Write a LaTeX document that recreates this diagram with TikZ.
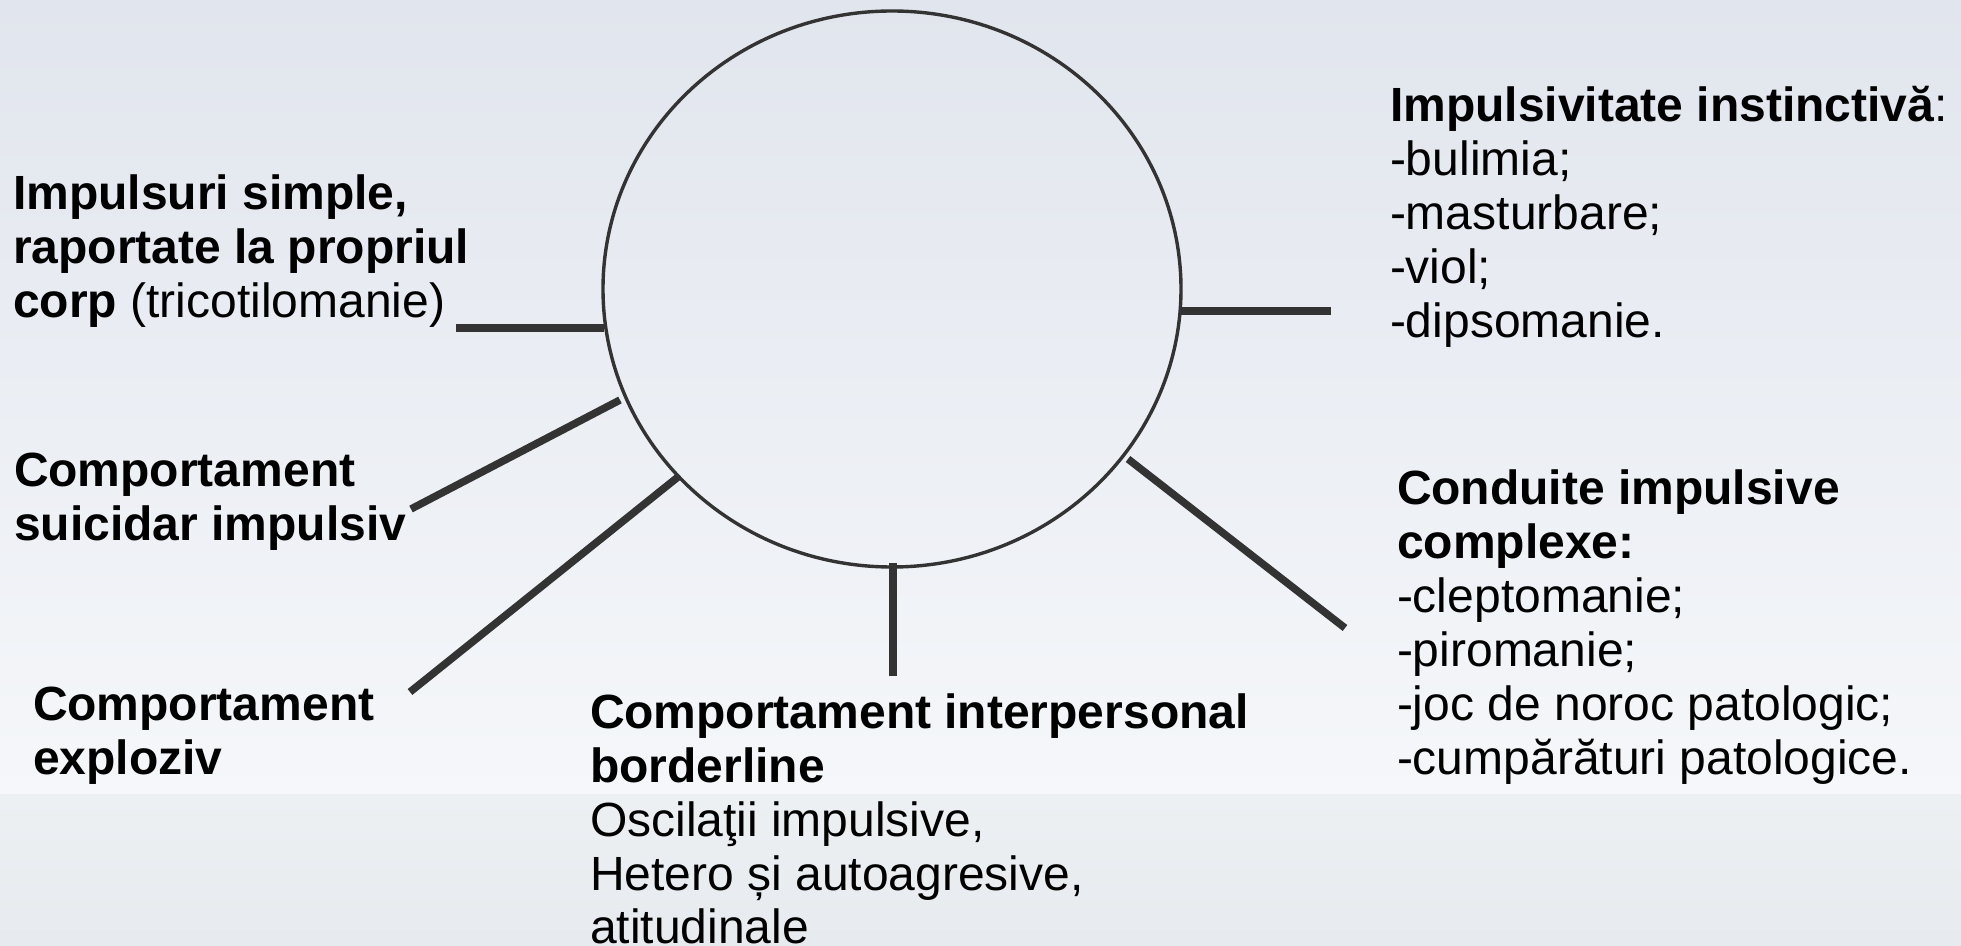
\documentclass[tikz,border=0pt]{standalone}
\usepackage{fontspec}
\setmainfont{Liberation Sans}
\usetikzlibrary{shapes.geometric}
\definecolor{bgtop}{HTML}{E1E5ED}
\definecolor{bgmid}{HTML}{F5F7FA}
\definecolor{bglow}{HTML}{EDF0F3}
\definecolor{bgbot}{HTML}{E7EAEE}
\definecolor{ink}{HTML}{333333}
\newcommand{\txtblock}[1]{\fontsize{24}{27}\selectfont\begin{tabular}[t]{@{}l@{}}#1\end{tabular}}
\begin{document}
\begin{tikzpicture}[x=0.5pt,y=-0.5pt,
  lbl/.style={anchor=base west,inner sep=0pt,outer sep=0pt,text=black},
  stub/.style={draw=ink,line width=3.75pt},
  ring/.style={draw=ink,line width=1.7pt,ellipse,minimum width=289pt,minimum height=278pt,inner sep=0pt}]
\useasboundingbox (0,0) rectangle (1961,946);
\shade[top color=bgtop,bottom color=bgmid] (0,0) rectangle (1961,794);
\shade[top color=bglow,bottom color=bgbot] (0,794) rectangle (1961,946);
\node[ring] (c) at (892,289) {};
% connectors
\coordinate (a1) at (456,328);  \coordinate (b1) at (604,328);
\coordinate (a2) at (411,509);  \coordinate (b2) at (620,400);
\coordinate (a3) at (410,692);  \coordinate (b3) at (678,477);
\coordinate (a4) at (893,676);  \coordinate (b4) at (893,563);
\coordinate (a5) at (1345,628); \coordinate (b5) at (1128,459);
\coordinate (a6) at (1331,311); \coordinate (b6) at (1180,311);
\draw[stub] (a1) -- (b1);
\draw[stub] (a2) -- (b2);
\draw[stub] (a3) -- (b3);
\draw[stub] (a4) -- (b4);
\draw[stub] (a5) -- (b5);
\draw[stub] (a6) -- (b6);
% texts
\node[lbl] (t1) at (13,210) {\txtblock{\textbf{Impulsuri simple,}\\\textbf{raportate la propriul}\\\textbf{corp} (tricotilomanie)}};
\node[lbl] (t2) at (14,487) {\txtblock{\textbf{Comportament}\\\textbf{suicidar impulsiv}}};
\node[lbl] (t3) at (33,720) {\txtblock{\textbf{Comportament}\\\textbf{exploziv}}};
\node[lbl] (t4) at (590,728) {\txtblock{\textbf{Comportament interpersonal}\\\textbf{borderline}\\Oscilaţii impulsive,\\Hetero și autoagresive,\\atitudinale}};
\node[lbl] (t5) at (1390,122) {\txtblock{\textbf{Impulsivitate instinctivă}:\\-bulimia;\\-masturbare;\\-viol;\\-dipsomanie.}};
\node[lbl] (t6) at (1397,505) {\txtblock{\textbf{Conduite impulsive}\\\textbf{complexe:}\\-cleptomanie;\\-piromanie;\\-joc de noroc patologic;\\-cumpărături patologice.}};
\end{tikzpicture}
\end{document}
